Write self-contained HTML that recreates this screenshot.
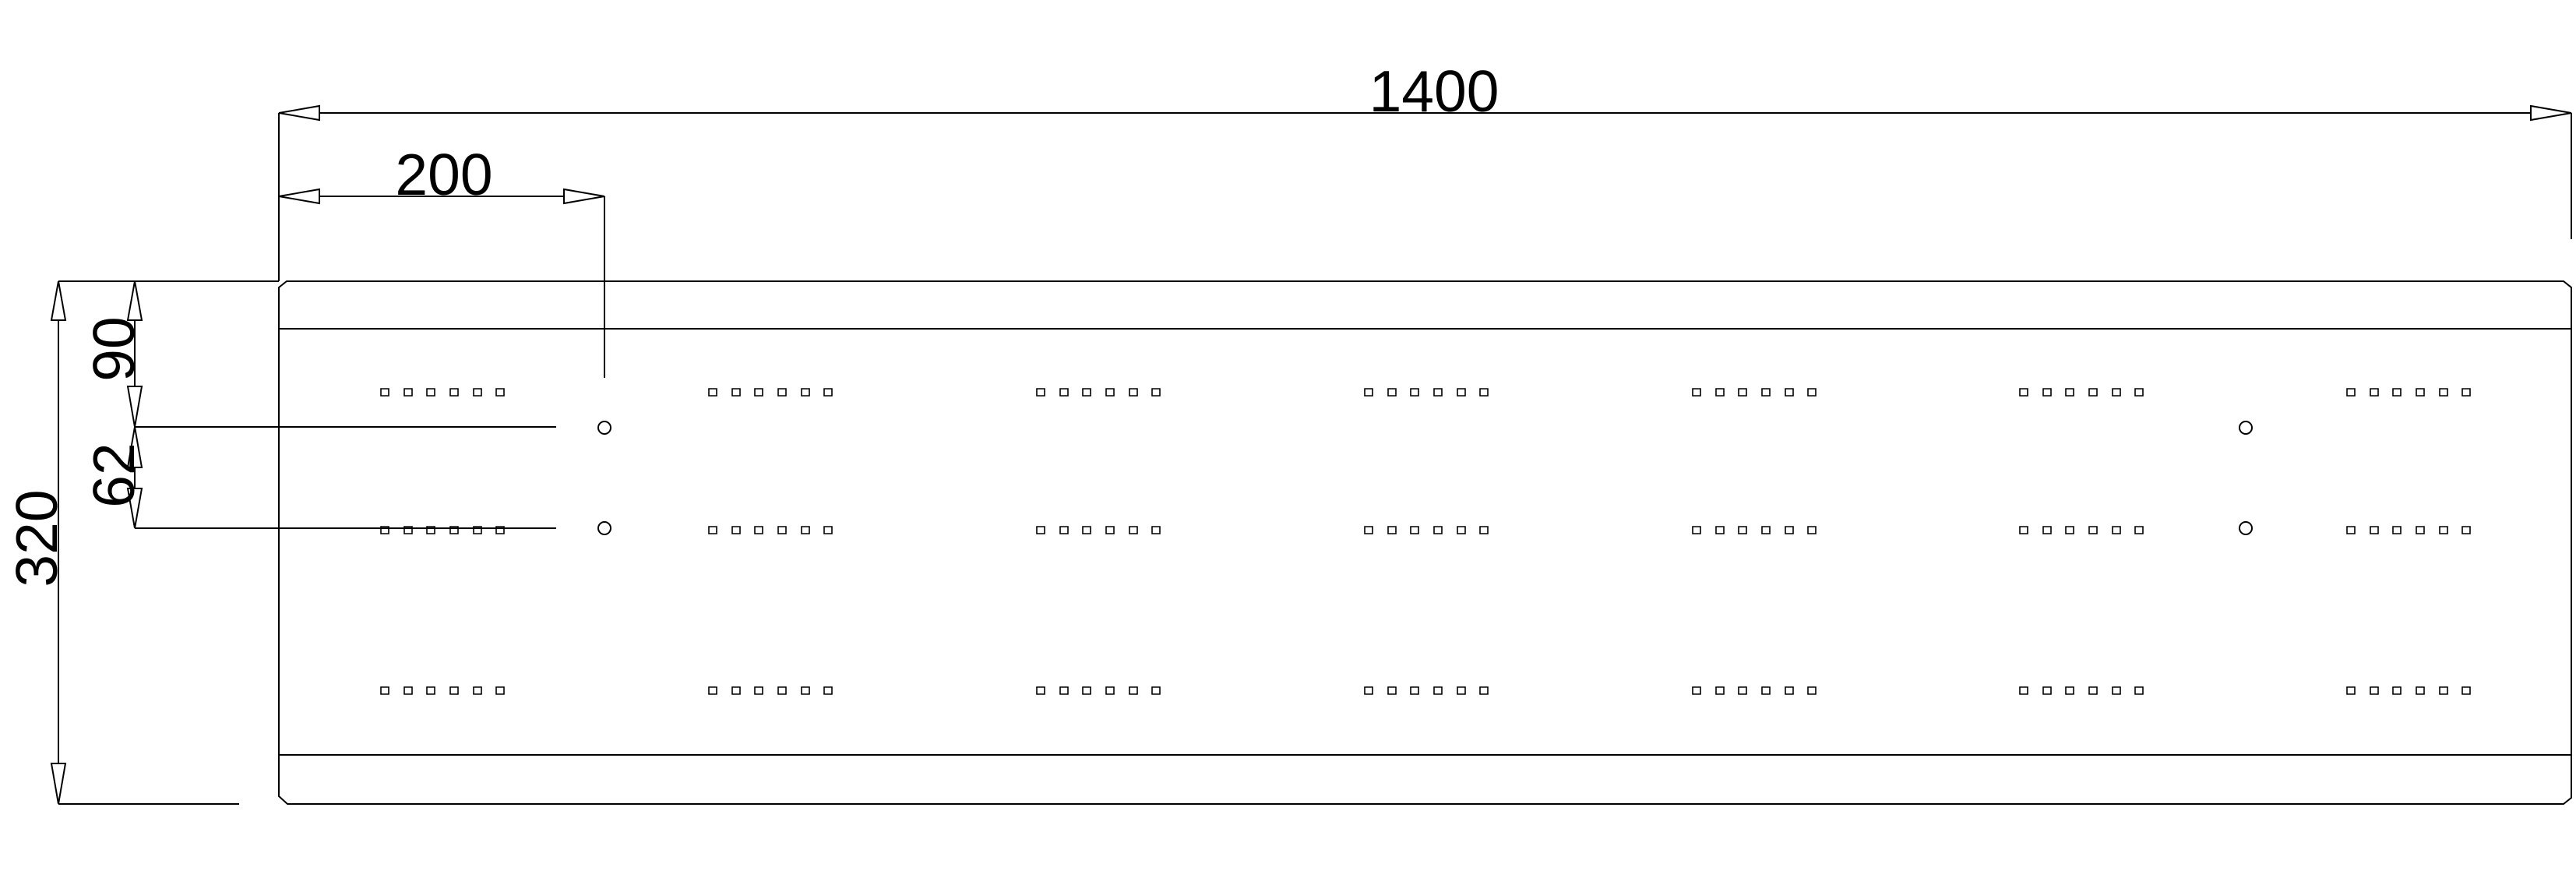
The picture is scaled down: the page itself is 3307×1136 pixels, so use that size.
<!DOCTYPE html>
<html><head><style>html,body{margin:0;padding:0;background:#fff}svg{display:block}</style></head>
<body>
<svg width="3307" height="1136" viewBox="0 0 3307 1136" xmlns="http://www.w3.org/2000/svg" font-family="Liberation Sans, sans-serif">
<g fill="none" stroke="#000" stroke-width="2">
<!-- frame -->
<path d="M368 361 L3291 361 L3301 369 L3301 1024 L3291 1032 L369 1032 L358 1022 L358 369 Z"/>
<line x1="358" y1="422" x2="3301" y2="422"/>
<line x1="358" y1="969" x2="3301" y2="969"/>
<!-- 1400 dim -->
<line x1="358" y1="145" x2="3301" y2="145"/>
<line x1="358" y1="145" x2="358" y2="361"/>
<line x1="3301" y1="145" x2="3301" y2="307"/>
<polygon points="358,145 410,136 410,154" fill="#fff"/>
<polygon points="3301,145 3249,136 3249,154" fill="#fff"/>
<!-- 200 dim -->
<line x1="358" y1="252" x2="776" y2="252"/>
<line x1="776" y1="252" x2="776" y2="485"/>
<polygon points="358,252 410,243 410,261" fill="#fff"/>
<polygon points="776,252 724,243 724,261" fill="#fff"/>
<!-- 320 dim -->
<line x1="75" y1="361" x2="75" y2="1032"/>
<line x1="75" y1="361" x2="358" y2="361"/>
<line x1="75" y1="1032" x2="307" y2="1032"/>
<polygon points="75,361 66,411 84,411" fill="#fff"/>
<polygon points="75,1032 66,980 84,980" fill="#fff"/>
<!-- 90 / 62 dims -->
<line x1="173" y1="361" x2="173" y2="678"/>
<line x1="173" y1="548" x2="714" y2="548"/>
<line x1="173" y1="678" x2="714" y2="678"/>
<polygon points="173,361 164,411 182,411" fill="#fff"/>
<polygon points="173,548 164,496 182,496" fill="#fff"/>
<polygon points="173,548 164,600 182,600" fill="#fff"/>
<polygon points="173,678 164,627 182,627" fill="#fff"/>
<!-- holes -->
<ellipse cx="776" cy="549" rx="8" ry="8"/>
<ellipse cx="776" cy="678" rx="8" ry="8"/>
<ellipse cx="2883" cy="549" rx="8" ry="8"/>
<ellipse cx="2883" cy="678" rx="8" ry="8"/>
</g>
<g fill="none" stroke="#000" stroke-width="1.6" id="sq">
<script>/* none */</script>
</g>
<g fill="none" stroke="#000" stroke-width="1.6">
<!-- generated squares -->
<path d="
M489 499h10v9h-10z M519 499h10v9h-10z M548 499h10v9h-10z M578 499h10v9h-10z M608 499h10v9h-10z M637 499h10v9h-10z
M910 499h10v9h-10z M940 499h10v9h-10z M969 499h10v9h-10z M999 499h10v9h-10z M1029 499h10v9h-10z M1058 499h10v9h-10z
M1331 499h10v9h-10z M1361 499h10v9h-10z M1390 499h10v9h-10z M1420 499h10v9h-10z M1450 499h10v9h-10z M1479 499h10v9h-10z
M1752 499h10v9h-10z M1782 499h10v9h-10z M1811 499h10v9h-10z M1841 499h10v9h-10z M1871 499h10v9h-10z M1900 499h10v9h-10z
M2173 499h10v9h-10z M2203 499h10v9h-10z M2232 499h10v9h-10z M2262 499h10v9h-10z M2292 499h10v9h-10z M2321 499h10v9h-10z
M2593 499h10v9h-10z M2623 499h10v9h-10z M2652 499h10v9h-10z M2682 499h10v9h-10z M2712 499h10v9h-10z M2741 499h10v9h-10z
M3013 499h10v9h-10z M3043 499h10v9h-10z M3072 499h10v9h-10z M3102 499h10v9h-10z M3132 499h10v9h-10z M3161 499h10v9h-10z
M489 676h10v9h-10z M519 676h10v9h-10z M548 676h10v9h-10z M578 676h10v9h-10z M608 676h10v9h-10z M637 676h10v9h-10z
M910 676h10v9h-10z M940 676h10v9h-10z M969 676h10v9h-10z M999 676h10v9h-10z M1029 676h10v9h-10z M1058 676h10v9h-10z
M1331 676h10v9h-10z M1361 676h10v9h-10z M1390 676h10v9h-10z M1420 676h10v9h-10z M1450 676h10v9h-10z M1479 676h10v9h-10z
M1752 676h10v9h-10z M1782 676h10v9h-10z M1811 676h10v9h-10z M1841 676h10v9h-10z M1871 676h10v9h-10z M1900 676h10v9h-10z
M2173 676h10v9h-10z M2203 676h10v9h-10z M2232 676h10v9h-10z M2262 676h10v9h-10z M2292 676h10v9h-10z M2321 676h10v9h-10z
M2593 676h10v9h-10z M2623 676h10v9h-10z M2652 676h10v9h-10z M2682 676h10v9h-10z M2712 676h10v9h-10z M2741 676h10v9h-10z
M3013 676h10v9h-10z M3043 676h10v9h-10z M3072 676h10v9h-10z M3102 676h10v9h-10z M3132 676h10v9h-10z M3161 676h10v9h-10z
M489 882h10v9h-10z M519 882h10v9h-10z M548 882h10v9h-10z M578 882h10v9h-10z M608 882h10v9h-10z M637 882h10v9h-10z
M910 882h10v9h-10z M940 882h10v9h-10z M969 882h10v9h-10z M999 882h10v9h-10z M1029 882h10v9h-10z M1058 882h10v9h-10z
M1331 882h10v9h-10z M1361 882h10v9h-10z M1390 882h10v9h-10z M1420 882h10v9h-10z M1450 882h10v9h-10z M1479 882h10v9h-10z
M1752 882h10v9h-10z M1782 882h10v9h-10z M1811 882h10v9h-10z M1841 882h10v9h-10z M1871 882h10v9h-10z M1900 882h10v9h-10z
M2173 882h10v9h-10z M2203 882h10v9h-10z M2232 882h10v9h-10z M2262 882h10v9h-10z M2292 882h10v9h-10z M2321 882h10v9h-10z
M2593 882h10v9h-10z M2623 882h10v9h-10z M2652 882h10v9h-10z M2682 882h10v9h-10z M2712 882h10v9h-10z M2741 882h10v9h-10z
M3013 882h10v9h-10z M3043 882h10v9h-10z M3072 882h10v9h-10z M3102 882h10v9h-10z M3132 882h10v9h-10z M3161 882h10v9h-10z"/>
</g>
<g fill="#000" font-size="75" text-anchor="middle">
<text x="1841" y="143">1400</text>
<text x="570" y="250">200</text>
<text transform="translate(172,448) rotate(-90)">90</text>
<text transform="translate(172,610) rotate(-90)">62</text>
<text transform="translate(73,691) rotate(-90)">320</text>
</g>
</svg>
</body></html>
